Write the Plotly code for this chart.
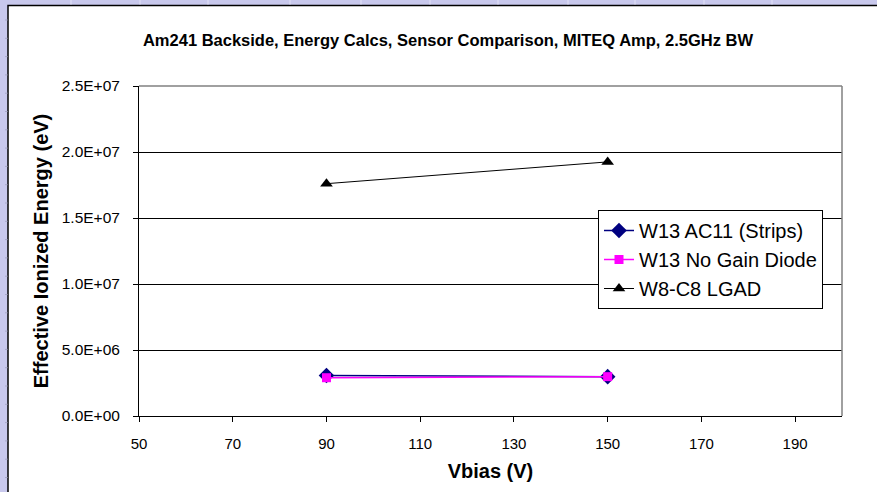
import plotly.graph_objects as go

# Bias voltage points (V)
vbias = [90, 150]

# Effective ionized energy per sensor (eV)
strips_ac11 = [3.07e6, 2.98e6]
nogain_diode = [2.90e6, 2.98e6]
lgad_w8c8 = [1.76e7, 1.925e7]

series_names = ["W13 AC11 (Strips)", "W13 No Gain Diode", "W8-C8 LGAD"]

x_ticks = [50, 70, 90, 110, 130, 150, 170, 190]
y_ticks = [0, 5e6, 1e7, 1.5e7, 2e7, 2.5e7]
y_tick_text = ["0.0E+00", "5.0E+06", "1.0E+07", "1.5E+07", "2.0E+07", "2.5E+07"]

title_text = "Am241 Backside, Energy Calcs, Sensor Comparison, MITEQ Amp, 2.5GHz BW"

W, H = 877, 492
L, R, T, B = 139, 35, 86, 76
pw, ph = W - L - R, H - T - B


def px(x):
    return (x - L) / pw


def py(y):
    return (H - B - y) / ph


font = "Liberation Sans, Arial, sans-serif"

fig = go.Figure()
fig.add_trace(go.Scatter(
    x=vbias, y=strips_ac11, name=series_names[0], mode="lines+markers",
    line=dict(color="#000080", width=1.5),
    marker=dict(symbol="diamond", size=12, color="#000080"),
))
fig.add_trace(go.Scatter(
    x=vbias, y=nogain_diode, name=series_names[1], mode="lines+markers",
    line=dict(color="#FF00FF", width=1.5),
    marker=dict(symbol="square", size=9, color="#FF00FF"),
))
fig.add_trace(go.Scatter(
    x=vbias, y=lgad_w8c8, name=series_names[2], mode="lines+markers",
    line=dict(color="#000000", width=1),
    marker=dict(symbol="triangle-up", size=11, color="#000000"),
))

shapes = []
# white chart sheet with dark frame on the spreadsheet background
shapes.append(dict(type="rect", xref="paper", yref="paper",
                   x0=px(8), x1=px(W + 10), y0=py(H + 10), y1=py(5.5),
                   fillcolor="white", line=dict(color="#000000", width=1.5),
                   layer="below"))
# spreadsheet column dividers along the top strip
for cx in [71, 140, 208, 290, 361, 430, 498, 568, 635, 704, 772]:
    shapes.append(dict(type="line", xref="paper", yref="paper",
                       x0=px(cx), x1=px(cx), y0=py(0), y1=py(4.5),
                       line=dict(color="#E2E2F6", width=1), layer="below"))
# spreadsheet row marks along the left strip
yy = 20
while yy < H:
    shapes.append(dict(type="line", xref="paper", yref="paper",
                       x0=px(5), x1=px(7.5), y0=py(yy), y1=py(yy),
                       line=dict(color="#A8A8C8", width=1), layer="below"))
    yy += 18.3
# grey plot-area border on top and right
shapes.append(dict(type="line", xref="paper", yref="paper", x0=0, x1=1, y0=1, y1=1,
                   line=dict(color="#808080", width=1.5)))
shapes.append(dict(type="line", xref="paper", yref="paper", x0=1, x1=1, y0=0, y1=1,
                   line=dict(color="#808080", width=1.5)))

fig.update_layout(
    width=W, height=H,
    margin=dict(l=L, r=R, t=T, b=B),
    paper_bgcolor="#C8C8EC",
    plot_bgcolor="white",
    shapes=shapes,
    font=dict(family=font, color="black"),
    title=dict(text="<b>" + title_text + "</b>", x=(133 + 763) / 2 / W, xanchor="center",
               y=1 - 40 / H, yanchor="middle",
               font=dict(family=font, size=16.5, color="black")),
    showlegend=True,
    legend=dict(x=px(598), y=py(210), xanchor="left", yanchor="top",
                bgcolor="white", bordercolor="black", borderwidth=1,
                font=dict(family=font, size=20, color="black"),
                tracegroupgap=0, itemwidth=30),
    xaxis=dict(
        range=[50, 200], tickvals=x_ticks, ticks="outside", ticklen=5,
        tickcolor="black", showline=True, linecolor="black", linewidth=1,
        showgrid=False, zeroline=False, ticklabelstandoff=9,
        tickfont=dict(family=font, size=15, color="black"),
        title=dict(text="<b>Vbias (V)</b>", standoff=12,
                   font=dict(family=font, size=20, color="black")),
    ),
    yaxis=dict(
        range=[0, 2.5e7], tickvals=y_ticks, ticktext=y_tick_text, ticks="outside",
        ticklen=5, tickcolor="black", showline=True, linecolor="black", linewidth=1,
        showgrid=True, gridcolor="black", gridwidth=1, zeroline=False,
        ticklabelstandoff=10,
        tickfont=dict(family=font, size=15.5, color="black"),
        title=dict(text="<b>Effective Ionized Energy (eV)</b>", standoff=7,
                   font=dict(family=font, size=20, color="black")),
    ),
)

fig.write_html("out.html")
